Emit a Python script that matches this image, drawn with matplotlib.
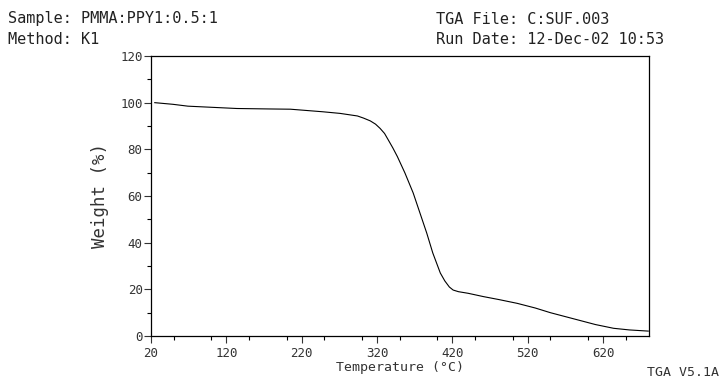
import numpy as np
import matplotlib.pyplot as plt
from matplotlib.ticker import MultipleLocator, FixedLocator

# TGA trace
temp = [25, 49, 69, 134, 178, 205, 248, 271, 294, 302, 311, 318, 324, 330,
        335, 341, 347, 357, 368, 377, 386, 394, 404, 410, 416, 421, 428, 441,
        461, 482, 506, 530, 550, 570, 590, 610, 634, 655, 680]
weight = [100.0, 99.3, 98.5, 97.5, 97.3, 97.2, 96.1, 95.4, 94.3, 93.4, 92.2,
          90.8, 89.0, 86.8, 84.0, 80.6, 76.9, 69.9, 61.3, 52.7, 44.1, 35.6,
          27.0, 23.6, 21.0, 19.7, 19.0, 18.3, 16.9, 15.6, 14.0, 12.0, 10.0,
          8.3, 6.6, 4.9, 3.3, 2.6, 2.1]
xticks = [20, 120, 220, 320, 420, 520, 620]
yticks = [0, 20, 40, 60, 80, 100, 120]

plt.rcParams['font.family'] = ['DejaVu Sans Mono']
fig = plt.figure(figsize=(7.22, 3.79), dpi=100)
ax = fig.add_axes([151 / 722, 1 - 336 / 379, (649 - 151) / 722, (336 - 56) / 379])

ax.plot(temp, weight, color='black', lw=0.8)
ax.set_xlim(20, 681)
ax.set_ylim(0, 120)

ax.xaxis.set_major_locator(FixedLocator(xticks))
ax.yaxis.set_major_locator(FixedLocator(yticks))
ax.xaxis.set_minor_locator(MultipleLocator(50))
ax.yaxis.set_minor_locator(MultipleLocator(10))
ax.tick_params(which='major', direction='out', length=5, width=0.8, labelsize=9, colors='#333333')
ax.tick_params(which='minor', direction='out', length=3, width=0.8)
ax.tick_params(axis='x', pad=3)
ax.tick_params(axis='y', pad=1)
for s in ax.spines.values():
    s.set_linewidth(0.9)

ax.set_xlabel('Temperature (°C)', fontsize=9.5, labelpad=1, color='#333333')
ax.set_ylabel('Weight (%)', fontsize=12.5, labelpad=8, color='#333333')

hdr = dict(fontsize=11, va='center', color='#222222')
fig.text(8 / 722, 1 - 19 / 379, 'Sample: PMMA:PPY1:0.5:1', **hdr)
fig.text(8 / 722, 1 - 39 / 379, 'Method: K1', **hdr)
fig.text(436 / 722, 1 - 19 / 379, 'TGA File: C:SUF.003', **hdr)
fig.text(436 / 722, 1 - 39 / 379, 'Run Date: 12-Dec-02 10:53', **hdr)
fig.text(719 / 722, 1 - 372 / 379, 'TGA V5.1A', fontsize=9.5, ha='right', va='center', color='#333333')

plt.savefig('out.png', dpi=100)
plt.close()
